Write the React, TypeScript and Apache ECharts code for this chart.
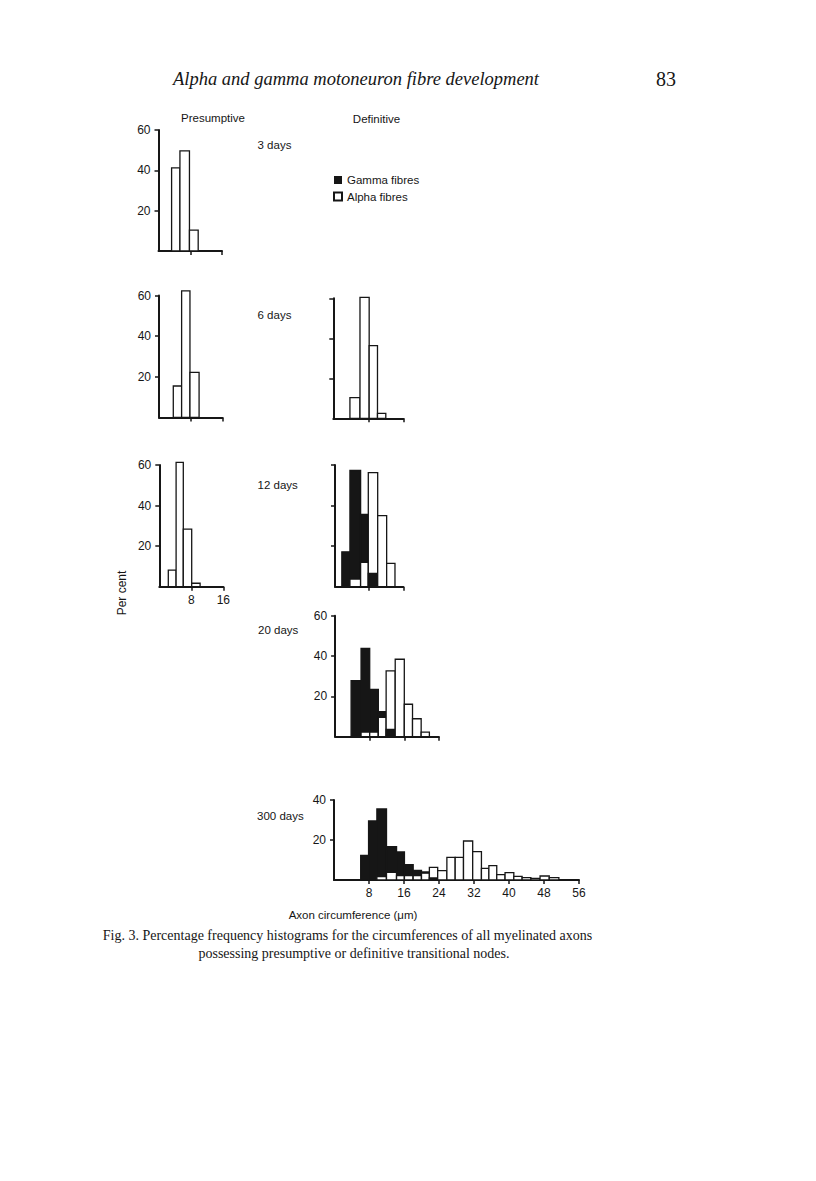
import React, { useEffect, useRef } from 'react';
import * as echarts from 'echarts';

const SANS = '"Liberation Sans", Arial, Helvetica, sans-serif';
const SERIF = '"Liberation Serif", "Times New Roman", serif';
const INK = '#161616';

// ---------- Presumptive (open bars, percent of axons) ----------
const p3Edges = [3.3, 5.4, 7.8, 10.0];
const p3Values = [41.2, 49.6, 10.4];
const p6Edges = [3.6, 5.7, 7.8, 10.1];
const p6Values = [15.5, 62.3, 22.2];
const p12Edges = [2.25, 4.2, 6.0, 8.1, 10.2];
const p12Values = [8.2, 61.3, 28.4, 1.7];

// ---------- Definitive (gamma = filled, alpha = open) ----------
const d6Edges = [3.8, 6.1, 8.2, 10.1, 12.0];
const d6Gamma = [0, 0, 0, 0];
const d6Alpha = [10.3, 60.5, 36.3, 2.5];

const d12Edges = [1.6, 3.5, 6.0, 7.8, 10.0, 12.1, 14.05];
const d12Gamma = [17.2, 57.3, 35.7, 6.6, 0, 0];
const d12Alpha = [0, 3.8, 12.0, 56.2, 35.0, 11.5];

const d20Edges = [3.7, 6.0, 8.0, 10.0, 11.8, 13.9, 16.0, 17.9, 19.9, 21.8];
const d20Gamma = [27.8, 43.8, 23.5, 12.4, 3.6, 0, 0, 0, 0];
const d20Alpha = [0, 2.3, 2.3, 9.6, 32.6, 38.4, 16.1, 8.9, 2.3];

const d300Edges = [6.1, 7.9, 9.8, 12.0, 14.3, 16.1, 18.1, 20.0, 21.8, 23.7, 25.8, 27.7, 29.6, 31.7, 33.7, 35.4, 37.2, 39.1, 41.1, 43.0, 45.0, 47.1, 49.2, 51.4];
const d300Gamma = [12.3, 29.5, 35.5, 16.7, 14.0, 7.7, 4.8, 4.0, 1.0, 0, 0, 0, 0, 0, 0, 0, 0, 0, 0, 0, 0, 0, 0];
const d300Alpha = [0, 0, 1.7, 3.8, 2.2, 2.2, 2.2, 3.4, 6.3, 4.7, 11.3, 11.3, 19.5, 14.2, 5.8, 7.2, 2.7, 3.7, 1.8, 1.2, 0.8, 2.0, 1.2];

// ---------- Tick values ----------
const xTicks16 = [8, 16];
const xTicks24 = [8, 16, 24];
const xTicks56 = [8, 16, 24, 32, 40, 48, 56];
const yTicks60 = [20, 40, 60];
const yTicks40 = [20, 40];

const dayLabels = ['3 days', '6 days', '12 days', '20 days', '300 days'];

type Panel = {
  edges: number[];
  gamma: number[] | null;
  alpha: number[];
  grid: { left: number; top: number; width: number; height: number };
  xMax: number;
  xTicks: number[];
  xLabels: boolean;
  yMax: number;
  yTicks: number[];
  yLabels: boolean;
};

const panels: Panel[] = [
  { edges: p3Edges, gamma: null, alpha: p3Values, grid: { left: 158.5, top: 130, width: 63.5, height: 121 }, xMax: 16, xTicks: xTicks16, xLabels: false, yMax: 60, yTicks: yTicks60, yLabels: true },
  { edges: p6Edges, gamma: null, alpha: p6Values, grid: { left: 159, top: 295.5, width: 63.5, height: 122 }, xMax: 16, xTicks: xTicks16, xLabels: false, yMax: 60, yTicks: yTicks60, yLabels: true },
  { edges: p12Edges, gamma: null, alpha: p12Values, grid: { left: 159.3, top: 465, width: 64, height: 121.7 }, xMax: 16, xTicks: xTicks16, xLabels: true, yMax: 60, yTicks: yTicks60, yLabels: true },
  { edges: d6Edges, gamma: d6Gamma, alpha: d6Alpha, grid: { left: 333.3, top: 298.3, width: 70, height: 120 }, xMax: 16, xTicks: xTicks16, xLabels: false, yMax: 60, yTicks: yTicks60, yLabels: false },
  { edges: d12Edges, gamma: d12Gamma, alpha: d12Alpha, grid: { left: 335, top: 465, width: 68.3, height: 121.7 }, xMax: 16, xTicks: xTicks16, xLabels: false, yMax: 60, yTicks: yTicks60, yLabels: false },
  { edges: d20Edges, gamma: d20Gamma, alpha: d20Alpha, grid: { left: 335.1, top: 615.7, width: 103.8, height: 121 }, xMax: 24, xTicks: xTicks24, xLabels: false, yMax: 60, yTicks: yTicks60, yLabels: true },
  { edges: d300Edges, gamma: d300Gamma, alpha: d300Alpha, grid: { left: 334, top: 800, width: 245, height: 80 }, xMax: 56, xTicks: xTicks56, xLabels: true, yMax: 40, yTicks: yTicks40, yLabels: true },
];

const dayLabelPos = [
  [257.5, 145],
  [257.5, 315],
  [257.5, 484.5],
  [258, 629.5],
  [257, 816],
];

const renderHist = (params: any, api: any) => {
  const x0 = api.value(0);
  const x1 = api.value(1);
  const g = api.value(2);
  const a = api.value(3);
  const items = [
    { v: g, fill: INK },
    { v: a, fill: '#ffffff' },
  ]
    .filter((d) => d.v > 0)
    .sort((p, q) => q.v - p.v);
  const children = items.map((d) => {
    const p0 = api.coord([x0, d.v]);
    const p1 = api.coord([x1, 0]);
    return {
      type: 'rect',
      shape: { x: p0[0], y: p0[1], width: p1[0] - p0[0], height: p1[1] - p0[1] },
      style: { fill: d.fill, stroke: INK, lineWidth: 1.3 },
    };
  });
  return { type: 'group', children };
};

function buildOption() {
  const grid = panels.map((p) => ({ ...p.grid }));
  const xAxis = panels.map((p, i) => ({
    type: 'value',
    gridIndex: i,
    min: 0,
    max: p.xMax,
    axisLine: { show: true, onZero: false, lineStyle: { color: INK, width: 2 } },
    axisTick: { show: true, length: 4, customValues: p.xTicks, lineStyle: { color: INK, width: 1.5 } },
    axisLabel: { show: p.xLabels, customValues: p.xTicks, fontFamily: SANS, fontSize: 12, color: INK, margin: 7 },
    splitLine: { show: false },
  }));
  const yAxis = panels.map((p, i) => ({
    type: 'value',
    gridIndex: i,
    min: 0,
    max: p.yMax,
    axisLine: { show: true, onZero: false, lineStyle: { color: INK, width: 2 } },
    axisTick: { show: true, length: 4, customValues: p.yTicks, lineStyle: { color: INK, width: 1.5 } },
    axisLabel: { show: p.yLabels, customValues: p.yTicks, fontFamily: SANS, fontSize: 12, color: INK, margin: 8 },
    splitLine: { show: false },
  }));
  const series: any[] = panels.map((p, i) => ({
    type: 'custom',
    name: 'panel' + i,
    xAxisIndex: i,
    yAxisIndex: i,
    dimensions: ['x0', 'x1', 'gamma', 'alpha'],
    encode: { x: [0, 1], y: [2, 3] },
    renderItem: renderHist,
    silent: true,
    data: p.alpha.map((a, k) => [p.edges[k], p.edges[k + 1], p.gamma ? p.gamma[k] : 0, a]),
  }));
  series.push(
    { type: 'bar', name: 'Gamma fibres', xAxisIndex: 0, yAxisIndex: 0, data: [], itemStyle: { color: INK } },
    { type: 'bar', name: 'Alpha fibres', xAxisIndex: 0, yAxisIndex: 0, data: [], itemStyle: { color: '#ffffff', borderColor: INK, borderWidth: 1.5 } }
  );

  const texts: any[] = [
    { type: 'text', x: 173, y: 79, style: { text: 'Alpha and gamma motoneuron fibre development', font: `italic 18.5px ${SERIF}`, fill: INK, textVerticalAlign: 'middle' } },
    { type: 'text', x: 666, y: 79, style: { text: '83', font: `20px ${SERIF}`, fill: INK, textAlign: 'center', textVerticalAlign: 'middle' } },
    { type: 'text', x: 213, y: 118, style: { text: 'Presumptive', font: `11.5px ${SANS}`, fill: INK, textAlign: 'center', textVerticalAlign: 'middle' } },
    { type: 'text', x: 376.5, y: 118.5, style: { text: 'Definitive', font: `11.5px ${SANS}`, fill: INK, textAlign: 'center', textVerticalAlign: 'middle' } },
    { type: 'text', x: 121.5, y: 593, rotation: Math.PI / 2, style: { text: 'Per cent', font: `12px ${SANS}`, fill: INK, textAlign: 'center', textVerticalAlign: 'middle' } },
    { type: 'text', x: 353, y: 915, style: { text: 'Axon circumference (μm)', font: `11.5px ${SANS}`, fill: INK, textAlign: 'center', textVerticalAlign: 'middle' } },
    { type: 'text', x: 347.5, y: 935, style: { text: 'Fig. 3. Percentage frequency histograms for the circumferences of all myelinated axons', font: `14px ${SERIF}`, fill: INK, textAlign: 'center', textVerticalAlign: 'middle' } },
    { type: 'text', x: 354, y: 953, style: { text: 'possessing presumptive or definitive transitional nodes.', font: `14px ${SERIF}`, fill: INK, textAlign: 'center', textVerticalAlign: 'middle' } },
  ];
  dayLabels.forEach((t, i) => {
    texts.push({ type: 'text', x: dayLabelPos[i][0], y: dayLabelPos[i][1], style: { text: t, font: `11.5px ${SANS}`, fill: INK, textVerticalAlign: 'middle' } });
  });

  return {
    animation: false,
    backgroundColor: '#ffffff',
    grid,
    xAxis,
    yAxis,
    series,
    legend: {
      data: ['Gamma fibres', 'Alpha fibres'],
      orient: 'vertical',
      left: 328,
      top: 169,
      itemWidth: 8,
      itemHeight: 8,
      itemGap: 4.6,
      icon: 'rect',
      selectedMode: false,
      textStyle: { fontFamily: SANS, fontSize: 11.5, color: INK },
    },
    graphic: { elements: texts },
  };
}

export default function App() {
  const ref = useRef<HTMLDivElement>(null);
  useEffect(() => {
    if (!ref.current) return;
    const chart = echarts.init(ref.current, null, { renderer: 'svg' });
    chart.setOption(buildOption() as any);
    return () => chart.dispose();
  }, []);
  return (
    <div
      ref={ref}
      style={{ position: 'absolute', left: 0, top: 0, width: 816, height: 1181, background: '#fff' }}
    />
  );
}
